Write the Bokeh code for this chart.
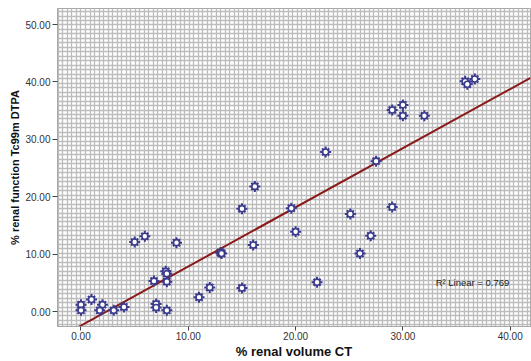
import numpy as np
from bokeh.plotting import figure
from bokeh.models import FixedTicker, NumeralTickFormatter, Range1d, Label
from bokeh.embed import file_html
from bokeh.resources import INLINE

# Data
renal_volume_ct = [0.0, 0.0, 0.98, 2.0, 1.75, 3.05, 4.0, 5.0, 5.95, 6.8, 7.0, 7.0,
                   7.9, 8.0, 8.0, 8.0, 8.9, 11.0, 12.0, 13.0, 13.1, 15.0, 15.0,
                   16.05, 16.2, 19.6, 20.0, 22.0, 22.8, 25.1, 26.0, 27.0, 27.5,
                   29.0, 29.0, 30.0, 30.0, 32.0, 35.8, 36.0, 36.7]
renal_function_dtpa = [1.2, 0.2, 2.1, 1.2, 0.2, 0.2, 0.8, 12.1, 13.1, 5.3, 1.3, 0.7,
                       7.0, 6.6, 5.2, 0.2, 12.0, 2.5, 4.2, 10.3, 10.1, 4.1, 17.9,
                       11.6, 21.8, 18.0, 13.9, 5.1, 27.8, 17.0, 10.1, 13.2, 26.2,
                       18.2, 35.1, 36.0, 34.1, 34.1, 40.1, 39.6, 40.5]
fit_intercept = -2.45
fit_slope = 1.03
r2_text = "R\u00b2 Linear = 0.769"
x_ticks = [0, 10, 20, 30, 40]
y_ticks = [0, 10, 20, 30, 40, 50]

x_lo, x_hi = -2.19, 41.89
y_lo, y_hi = -2.61, 52.79

p = figure(width=531, height=361, output_backend="svg", toolbar_location=None,
           x_range=Range1d(x_lo, x_hi), y_range=Range1d(y_lo, y_hi),
           min_border_left=57, min_border_right=1, min_border_top=8,
           min_border_bottom=35)
p.background_fill_color = "white"
p.border_fill_color = "white"
p.outline_line_color = "#a8a8a8"

# mesh grid
p.xgrid.ticker = FixedTicker(ticks=list(np.arange(-2.1, 42.0, 0.42)))
p.ygrid.ticker = FixedTicker(ticks=list(np.arange(-2.34, 53.0, 0.78)))
for g in (p.xgrid, p.ygrid):
    g.grid_line_color = "#bdbdbd"
    g.grid_line_width = 1.3

for ax in (p.xaxis, p.yaxis):
    ax.formatter = NumeralTickFormatter(format="0.00")
    ax.major_label_text_font = "Liberation Sans"
    ax.major_label_text_font_size = "10px"
    ax.major_label_text_color = "#333333"
    ax.axis_label_text_font = "Liberation Sans"
    ax.axis_label_text_font_style = "bold"
    ax.axis_label_text_color = "#111111"
    ax.axis_line_color = "#a8a8a8"
    ax.major_tick_line_color = "#444444"
    ax.major_tick_in = 0
    ax.minor_tick_line_color = None

p.xaxis.axis_label_text_font_size = "13px"
p.yaxis.axis_label_text_font_size = "11px"
p.xaxis.major_tick_out = 4
p.yaxis.major_tick_out = 5
p.xaxis.major_label_standoff = 1
p.yaxis.major_label_standoff = 2
p.xaxis.ticker = FixedTicker(ticks=x_ticks)
p.yaxis.ticker = FixedTicker(ticks=y_ticks)
p.xaxis.axis_label = "% renal volume CT"
p.yaxis.axis_label = "% renal function Tc99m DTPA"
p.xaxis.axis_label_standoff = 1
p.yaxis.axis_label_standoff = 1

# fit line
fx = np.array([x_lo, x_hi])
p.line(fx, fit_intercept + fit_slope * fx, line_color="#8b1a1a", line_width=2)

# markers (gear-like)
mc = "#3a3a8e"
p.scatter(renal_volume_ct, renal_function_dtpa, marker="cross", size=11,
          line_color=mc, line_width=2)
p.scatter(renal_volume_ct, renal_function_dtpa, marker="x", size=10,
          line_color=mc, line_width=2)
p.scatter(renal_volume_ct, renal_function_dtpa, marker="circle", size=6,
          line_color=mc, line_width=1.6, fill_color="white")

p.add_layout(Label(x=33.05, y=5.0, text=r2_text, text_font="Liberation Sans",
                   text_font_size="9.5px", text_color="#222222",
                   text_baseline="middle"))

open("out.html", "w").write(file_html(p, INLINE))
